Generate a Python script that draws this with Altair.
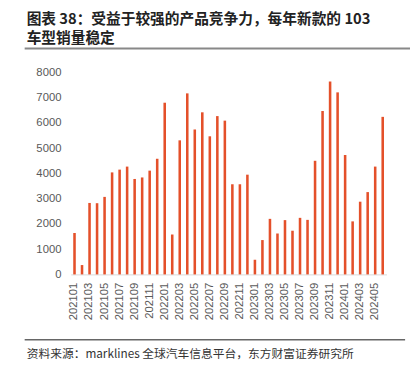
import altair as alt
import pandas as pd

months = [
    "202101", "202102", "202103", "202104", "202105", "202106",
    "202107", "202108", "202109", "202110", "202111", "202112",
    "202201", "202202", "202203", "202204", "202205", "202206",
    "202207", "202208", "202209", "202210", "202211", "202212",
    "202301", "202302", "202303", "202304", "202305", "202306",
    "202307", "202308", "202309", "202310", "202311", "202312",
    "202401", "202402", "202403", "202404", "202405", "202406",
]
sales = [
    1640, 370, 2830, 2820, 3070, 4040, 4150, 4270, 3780, 3840, 4110, 4580,
    6800, 1580, 5310, 7170, 5740, 6420, 5470, 6270, 6090, 3570, 3570, 3950,
    580, 1360, 2200, 1620, 2150, 1730, 2240, 2160, 4500, 6470, 7640, 7210,
    4730, 2100, 2880, 3260, 4270, 6240,
]
tick_months = months[::2]
y_ticks = [0, 1000, 2000, 3000, 4000, 5000, 6000, 7000, 8000]

title_line1 = "图表 38：受益于较强的产品竞争力，每年新款的 103"
title_line2 = "车型销量稳定"
source_text = "资料来源：marklines 全球汽车信息平台，东方财富证券研究所"

df = pd.DataFrame({"month": months, "sales": sales})

bars = alt.Chart(df).mark_bar(size=2.6, color="#E4502A").encode(
    x=alt.X(
        "month:N",
        sort=months,
        scale=alt.Scale(paddingInner=0, paddingOuter=0),
        axis=alt.Axis(
            title=None,
            values=tick_months,
            labelAngle=270,
            labelAlign="right",
            labelBaseline="middle",
            labelFontSize=11.5,
            labelFont="Liberation Sans",
            labelColor="#595959",
            labelPadding=8,
            ticks=False,
            domainColor="#d9d9d9",
            domainWidth=1,
            grid=False,
        ),
    ),
    y=alt.Y(
        "sales:Q",
        scale=alt.Scale(domain=[0, 8000], nice=False),
        axis=alt.Axis(
            title=None,
            values=y_ticks,
            format="d",
            labelFontSize=11.5,
            labelFont="Liberation Sans",
            labelColor="#595959",
            labelPadding=10,
            ticks=False,
            domain=False,
            grid=False,
        ),
    ),
)

def text_layer(txt, x, y, size, weight="normal", color="#222222"):
    return alt.Chart(pd.DataFrame({"t": [txt]})).mark_text(
        align="left", baseline="middle", fontSize=size, fontWeight=weight,
        font="Noto Sans CJK SC", color=color,
    ).encode(text="t:N", x=alt.value(x), y=alt.value(y))

t1 = text_layer(title_line1, -45, -54.5, 15, "bold")
t2 = text_layer(title_line2, -45, -35, 15, "bold")
src = text_layer(source_text, -45, 287, 12, "normal", "#333333")

rule_top = alt.Chart(pd.DataFrame({"a": [0]})).mark_rule(color="#888888", strokeWidth=2).encode(
    x=alt.value(-47), x2=alt.value(360), y=alt.value(-24.5)
)
rule_bottom = alt.Chart(pd.DataFrame({"a": [0]})).mark_rule(color="#666666", strokeWidth=1.5).encode(
    x=alt.value(-47), x2=alt.value(341), y=alt.value(272.7)
)

chart = alt.layer(bars, t1, t2, src, rule_top, rule_bottom).properties(
    width=322,
    height=206,
    autosize=alt.AutoSizeParams(type="none"),
    padding={"left": 64, "top": 62, "right": 24, "bottom": 104},
).configure_view(stroke=None)

chart.save("out.html", embed_options={"renderer": "svg", "actions": False})
